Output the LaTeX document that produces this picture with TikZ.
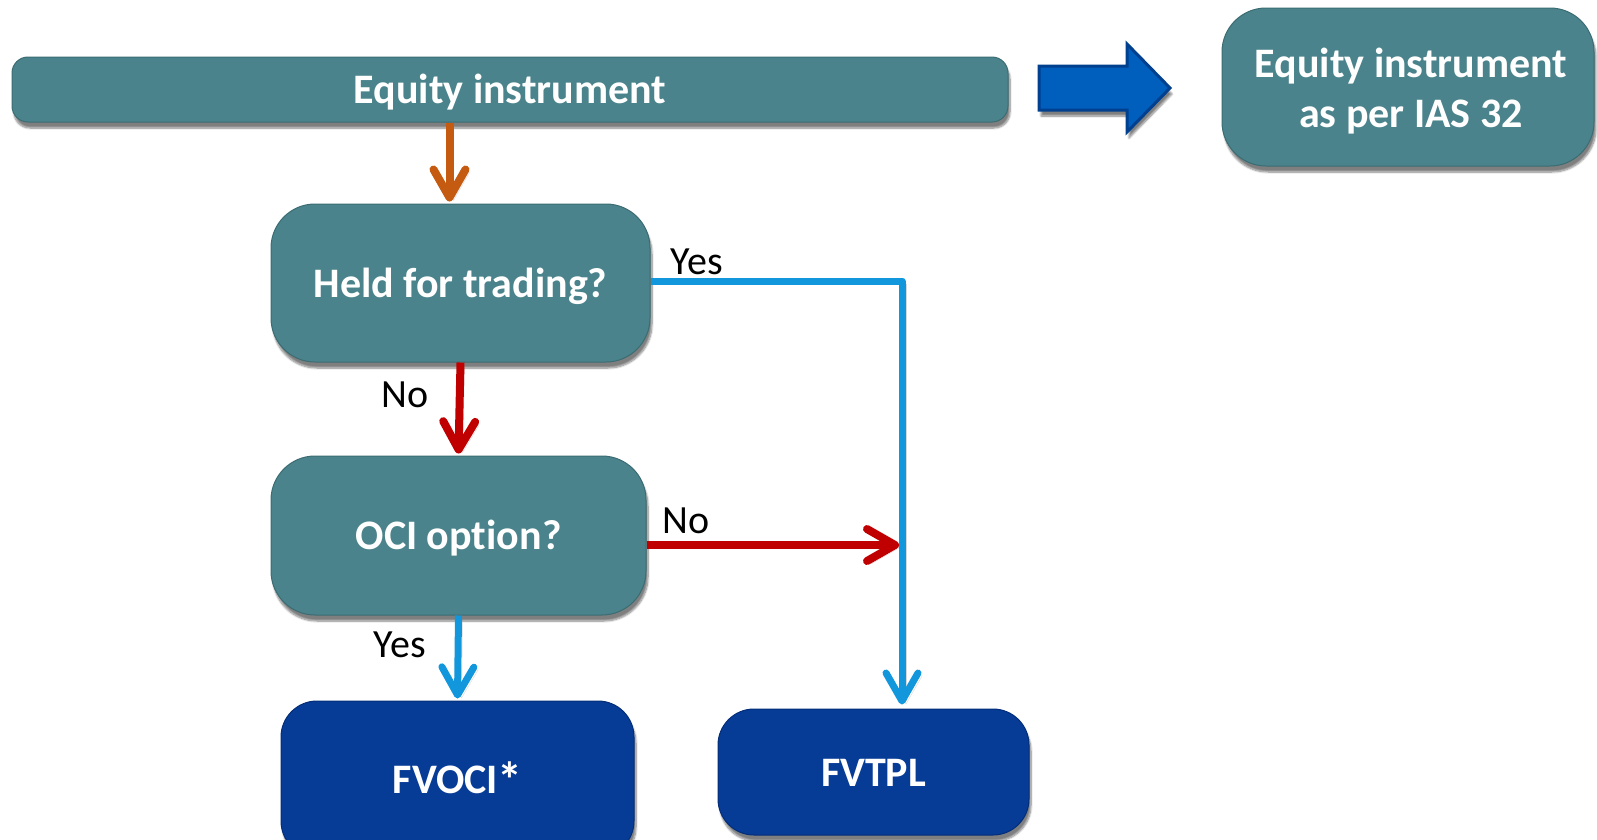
\documentclass[tikz,border=0pt]{standalone}
\usepackage{fontspec}
\setmainfont{Carlito}[Ligatures={NoCommon}]
\usetikzlibrary{arrows.meta,shadows.blur,calc}

\definecolor{tealmain}{HTML}{4A838B}
\definecolor{teallt}{HTML}{86C6CF}
\definecolor{tealdk}{HTML}{3B6C73}
\definecolor{navymain}{HTML}{063B96}
\definecolor{navylt}{HTML}{3D74D0}
\definecolor{navydk}{HTML}{042E78}
\definecolor{flowblue}{HTML}{1296DC}
\definecolor{flowred}{HTML}{C00000}
\definecolor{floworange}{HTML}{C55A11}
\definecolor{bigarrow}{HTML}{005EBD}
\definecolor{bigarrowedge}{HTML}{00408F}

\pgfdeclareverticalshading{tealbevel}{100bp}{color(0bp)=(tealdk); color(6bp)=(tealmain); color(88bp)=(tealmain); color(100bp)=(teallt)}
\pgfdeclareverticalshading{navybevel}{100bp}{color(0bp)=(navydk); color(6bp)=(navymain); color(88bp)=(navymain); color(100bp)=(navylt)}

\tikzset{
  boxshadow/.style={blur shadow={shadow xshift=2pt, shadow yshift=-6pt, shadow blur steps=8, shadow opacity=50}},
  lineshadow/.style={preaction={draw=black!70, opacity=0.22, transform canvas={shift={(4pt,-3pt)}}}},
  tealbox/.style={shading=tealbevel, draw=tealdk, line width=1pt, boxshadow, inner sep=0pt},
  navybox/.style={shading=navybevel, draw=navydk, line width=1pt, boxshadow, inner sep=0pt},
  boxtext/.style={text=white, font=\fontsize{42}{50}\selectfont\bfseries, align=center, inner sep=0pt},
  flow/.style={lineshadow, -{Straight Barb[length=28pt, width=32pt, line cap=round, line join=round]}},
  thickflow/.style={flow, line width=8pt},
  thinflow/.style={flow, line width=7pt},
  flowlabel/.style={font=\fontsize{40}{46}\selectfont, text=black, inner sep=0pt},
}

\begin{document}
\begin{tikzpicture}[x=1pt, y=-1pt]
\useasboundingbox (0,0) rectangle (1597,839);

% boxes
\node[tealbox, rounded corners=16pt, minimum width=996pt, minimum height=65pt] (equity) at (510,89.5) {};
\node[tealbox, rounded corners=44pt, minimum width=372pt, minimum height=158pt] (ias) at (1408,87) {};
\node[tealbox, rounded corners=44pt, minimum width=379pt, minimum height=158pt] (held) at (460.5,283) {};
\node[tealbox, rounded corners=44pt, minimum width=375pt, minimum height=159pt] (oci) at (458.5,535.5) {};
\node[navybox, rounded corners=36pt, minimum width=353pt, minimum height=156pt] (fvoci) at (457.5,779) {};
\node[navybox, rounded corners=36pt, minimum width=311pt, minimum height=126pt] (fvtpl) at (873.5,772) {};

% box captions
\node[boxtext] (equitytext) at ([yshift=-3pt]equity.center) {Equity instrument};
\node[boxtext] (iastext) at ([xshift=3pt, yshift=-4pt]ias.center) {Equity instrument\\as per IAS 32};
\node[boxtext] (heldtext) at ([yshift=-3pt]held.center) {Held for trading?};
\node[boxtext] (ocitext) at ([yshift=-3pt]oci.center) {OCI option?};
\node[boxtext] (fvocitext) at ([yshift=-1pt]fvoci.center) {FVOCI\kern-1pt\smash{\raisebox{-4pt}{\fontsize{50}{50}\selectfont*}}};
\node[boxtext] (fvtpltext) at ([yshift=-1pt]fvtpl.center) {FVTPL};

% block arrow towards the IAS 32 box
\filldraw[fill=bigarrow, draw=bigarrowedge, line width=3pt, line join=miter, boxshadow]
  (1039,66) -- (1127,66) -- (1127,44) -- (1170,88) -- (1127,132) -- (1127,110) -- (1039,110) -- cycle;

% connectors
\coordinate (bend) at (902,281);
\coordinate (entry) at ([xshift=-11pt]held.north);
\draw[thickflow, floworange] (entry |- equity.south) -- ([yshift=2pt]entry);
\draw[thickflow, flowred] (held.south) -- ([yshift=2pt]oci.north);
\draw[thinflow, flowblue] (oci.south) -- ([yshift=2pt]fvoci.north);
\draw[thinflow, flowblue, line join=round] (held.east |- bend) -- (bend) -- ([yshift=4pt]bend |- fvtpl.north);
\draw[thickflow, flowred] (oci.east |- 0,545) -- ([xshift=-3pt]bend |- 0,545);

% labels
\node[flowlabel] (lno1) at (405,395) {No};
\node[flowlabel] (lyes1) at (697,262) {Yes};
\node[flowlabel] (lno2) at (686,521) {No};
\node[flowlabel] (lyes2) at (400,645) {Yes};
\end{tikzpicture}
\end{document}
